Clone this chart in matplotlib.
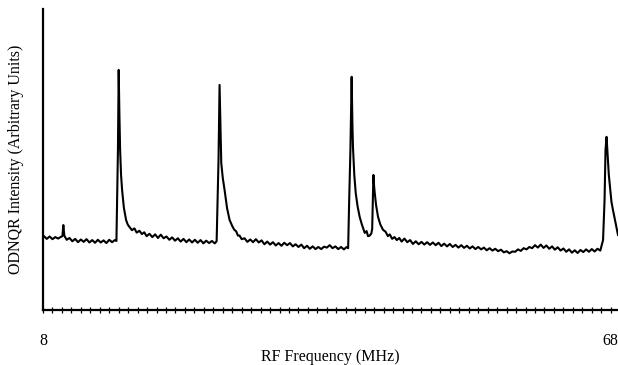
import matplotlib
matplotlib.use("Agg")
import matplotlib.pyplot as plt
from matplotlib.ticker import MultipleLocator

# ODNQR trace (frequency in MHz, intensity in arbitrary units)
freq_mhz = [
    8.1, 8.4, 8.7, 9.0, 9.3, 9.6, 9.9, 10.05, 10.15, 10.25, 10.5, 10.8, 11.1, 11.4,
    11.7, 12.0, 12.3, 12.6, 12.9, 13.2, 13.5, 13.8, 14.1, 14.4, 14.7, 15.0, 15.3, 15.6,
    15.76, 15.92, 16.0, 16.07, 16.15, 16.25, 16.36, 16.55, 16.78, 16.95, 17.13, 17.4,
    17.66, 17.9, 18.19, 18.45, 18.7, 18.95, 19.25, 19.55, 19.85, 20.15, 20.45, 20.75,
    21.05, 21.35, 21.65, 21.95, 22.25, 22.55, 22.85, 23.15, 23.45, 23.75, 24.05, 24.35,
    24.65, 24.95, 25.25, 25.55, 25.85, 26.15, 26.35,
    26.55, 26.66, 26.75, 26.84, 27.0, 27.19, 27.45, 27.72, 28.0, 28.2, 28.42, 28.6,
    28.77, 29.0, 29.3, 29.6, 29.9, 30.2, 30.5, 30.8, 31.1, 31.4, 31.7, 32.0, 32.3,
    32.6, 32.9, 33.2, 33.5, 33.8, 34.1, 34.4, 34.7, 35.0, 35.3, 35.6, 35.9, 36.2,
    36.5, 36.8, 37.1, 37.4, 37.7, 38.0, 38.3, 38.6, 38.9, 39.2, 39.5, 39.8, 40.1, 40.25,
    40.36, 40.49, 40.62, 40.7, 40.76, 40.9, 41.05, 41.25, 41.47, 41.7, 42.0, 42.2,
    42.35, 42.53, 42.7, 42.79, 42.85, 42.92, 43.0, 43.06, 43.2, 43.41, 43.65, 43.94,
    44.2, 44.45, 44.65, 44.9, 45.15, 45.39, 45.65, 45.9, 46.2, 46.5, 46.8, 47.1, 47.4,
    47.7, 48.0, 48.3, 48.6, 48.9, 49.2, 49.5, 49.8, 50.1, 50.4, 50.7, 51.0, 51.3, 51.6,
    51.9, 52.2, 52.5, 52.8, 53.1, 53.4, 53.7, 54.0, 54.3, 54.6, 54.9, 55.2, 55.5, 55.8,
    56.1, 56.4, 56.7, 57.0, 57.3, 57.6, 57.9, 58.2, 58.5, 58.8, 59.1, 59.4, 59.7, 60.0,
    60.3, 60.6, 60.9, 61.2, 61.5, 61.8, 62.1, 62.4, 62.7, 63.0, 63.3, 63.6, 63.9, 64.2,
    64.5, 64.8, 65.1, 65.4, 65.7, 66.0, 66.3, 66.6, 66.9, 67.19,
    67.35, 67.45, 67.56, 67.63, 67.71, 67.8, 67.92, 68.08, 68.24, 68.45, 68.6, 68.77,
]
intensity = [
    24.6, 23.7, 24.5, 23.6, 24.3, 23.8, 24.4, 24.6, 28.3, 24.8, 23.4, 24.0, 22.9, 23.7,
    22.6, 23.5, 22.7, 23.6, 22.5, 23.3, 22.4, 23.4, 22.5, 23.2, 22.3, 23.4, 22.6, 23.3,
    23.0, 53.3, 80.0, 66.0, 53.3, 45.0, 40.0, 34.0, 30.0, 28.5, 27.7, 26.6,
    27.2, 25.8, 26.4, 25.3, 25.9, 24.6, 25.4, 24.3, 25.2, 24.0, 25.1, 23.9,
    24.5, 23.4, 24.2, 23.1, 23.9, 22.8, 23.7, 22.6, 23.5, 22.5, 23.4, 22.4,
    23.3, 22.2, 23.1, 22.3, 23.0, 22.2, 22.9,
    50.0, 75.0, 62.0, 49.0, 44.0, 40.0, 34.0, 30.0, 28.0, 26.8, 26.2, 24.8,
    24.8, 23.6, 23.9, 22.7, 23.5, 22.6, 23.6, 22.5, 23.2, 21.9, 22.8, 21.8, 22.6,
    21.5, 22.3, 21.4, 22.4, 21.6, 22.3, 21.2, 21.9, 21.0, 21.8, 20.6, 21.4, 20.4,
    21.2, 20.3, 21.0, 20.3, 21.1, 20.8, 21.6, 20.6, 21.2, 20.3, 21.0, 20.2, 21.0, 20.6,
    36.7, 53.3, 77.7, 62.0, 54.3, 45.0, 39.0, 34.5, 31.0, 28.5, 25.7, 26.3,
    24.6, 24.8, 25.5, 27.0, 36.0, 45.0, 41.0, 39.0, 35.0, 31.0, 28.5, 26.7,
    26.1, 24.6, 25.2, 23.7, 24.3, 23.3, 24.0, 22.8, 23.8, 22.6, 23.3, 22.0, 22.9,
    21.9, 22.7, 21.8, 22.6, 21.7, 22.5, 21.6, 22.4, 21.3, 22.1, 21.2, 22.0, 21.0, 21.7,
    20.8, 21.6, 20.7, 21.4, 20.5, 21.2, 20.3, 21.0, 20.2, 20.8, 19.9, 20.6, 19.8, 20.4,
    19.6, 20.1, 19.2, 19.6, 18.9, 19.5, 19.4, 20.2, 19.7, 20.6, 20.2, 21.0, 20.6, 21.6,
    20.8, 21.8, 20.7, 21.5, 20.4, 21.2, 20.1, 20.9, 19.8, 20.5, 19.4, 20.2, 19.1, 19.9,
    19.0, 20.0, 19.3, 20.2, 19.4, 20.3, 19.5, 20.4, 19.8, 23.3,
    36.7, 53.3, 57.7, 54.0, 50.0, 45.0, 41.0, 36.0, 33.3, 30.0, 27.5, 25.0,
]

x_labels = [8, 68]

plt.rcParams['font.family'] = ['Liberation Serif', 'DejaVu Serif']

fig = plt.figure(figsize=(6.18, 3.65), dpi=100)
ax = fig.add_axes([43 / 618, 55 / 365, 575 / 618, 301 / 365])

ax.plot(freq_mhz, intensity, color='black', lw=1.5, clip_on=False)

ax.set_xlim(8, 68.77)
ax.set_ylim(0, 100.3)

for side in ['top', 'right']:
    ax.spines[side].set_visible(False)
for side in ['left', 'bottom']:
    ax.spines[side].set_linewidth(1.6)

ax.set_yticks([])
ax.set_xticks(x_labels)
ax.set_xticklabels([str(v) for v in x_labels], fontsize=11.5)
ax.xaxis.set_minor_locator(MultipleLocator(1))
ax.tick_params(axis='x', which='both', direction='inout', length=4.5, width=0.9, pad=14)

ax.set_xlabel('RF Frequency (MHz)', fontsize=11.5, labelpad=0)
ax.set_ylabel('ODNQR Intensity (Arbitrary Units)', fontsize=11.5, labelpad=14)

fig.savefig('out.png', dpi=100)
